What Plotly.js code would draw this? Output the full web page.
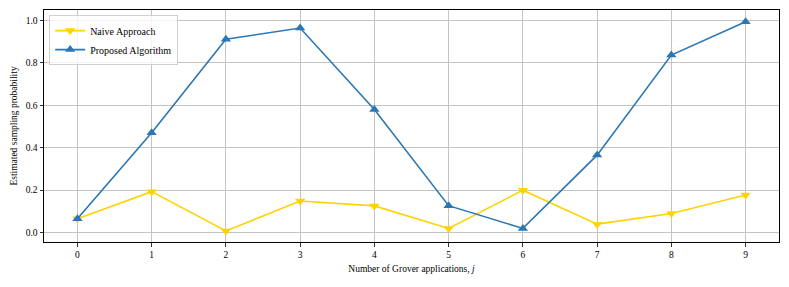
<!DOCTYPE html>
<html>
<head>
<meta charset="utf-8">
<script src="https://cdn.plot.ly/plotly-3.0.1.min.js"></script>
<style>html,body{margin:0;padding:0;background:#fff;}#chart{width:789px;height:287px;}</style>
</head>
<body>
<div id="chart"></div>
<script>
const groverSteps = [0, 1, 2, 3, 4, 5, 6, 7, 8, 9];
const naiveValues = [0.065, 0.193, 0.008, 0.149, 0.126, 0.02, 0.20, 0.04, 0.09, 0.177];
const proposedValues = [0.065, 0.47, 0.91, 0.963, 0.58, 0.127, 0.02, 0.365, 0.836, 0.993];
const yTicks = [0.0, 0.2, 0.4, 0.6, 0.8, 1.0];
const yTickLabels = ["0.0", "0.2", "0.4", "0.6", "0.8", "1.0"];

const font = "Liberation Serif, Times New Roman, serif";

const traces = [
  {
    x: groverSteps, y: naiveValues, name: "Naive Approach",
    mode: "lines+markers", type: "scatter",
    line: {color: "#FFD300", width: 1.6},
    marker: {symbol: "triangle-down", size: 9, color: "#FFD300"}
  },
  {
    x: groverSteps, y: proposedValues, name: "Proposed Algorithm",
    mode: "lines+markers", type: "scatter",
    line: {color: "#2a77b4", width: 1.6},
    marker: {symbol: "triangle-up", size: 9, color: "#2a77b4"}
  }
];

const layout = {
  width: 789, height: 287,
  margin: {l: 44, r: 10, t: 10, b: 45},
  paper_bgcolor: "#fff", plot_bgcolor: "#fff",
  font: {family: font, size: 9.5, color: "#000"},
  showlegend: true,
  legend: {
    x: 0.007, y: 0.978, xanchor: "left", yanchor: "top",
    bgcolor: "rgba(255,255,255,0.8)", bordercolor: "#d0d0d0", borderwidth: 1,
    font: {family: font, size: 10, color: "#000"},
    itemwidth: 30,
    tracegroupgap: 0
  },
  xaxis: {
    range: [-0.45, 9.45],
    tickvals: groverSteps,
    ticktext: groverSteps.map(String),
    showgrid: true, gridcolor: "#c4c4c4", gridwidth: 1,
    zeroline: false,
    showline: true, linecolor: "#000", linewidth: 1, mirror: true,
    ticks: "outside", ticklen: 3.5, tickcolor: "#000", tickwidth: 0.8,
    tickfont: {family: font, size: 9.5},
    title: {text: "Number of Grover applications, <i>j</i>", font: {family: font, size: 9.5}, standoff: 6}
  },
  yaxis: {
    range: [-0.044, 1.048],
    tickvals: yTicks,
    ticktext: yTickLabels,
    showgrid: true, gridcolor: "#c4c4c4", gridwidth: 1,
    zeroline: false,
    showline: true, linecolor: "#000", linewidth: 1, mirror: true,
    ticks: "outside", ticklen: 3.5, tickcolor: "#000", tickwidth: 0.8,
    tickfont: {family: font, size: 9.5},
    title: {text: "Estimated sampling probability", font: {family: font, size: 9.5}, standoff: 6}
  }
};

Plotly.newPlot("chart", traces, layout, {displayModeBar: false, staticPlot: true});
</script>
</body>
</html>
